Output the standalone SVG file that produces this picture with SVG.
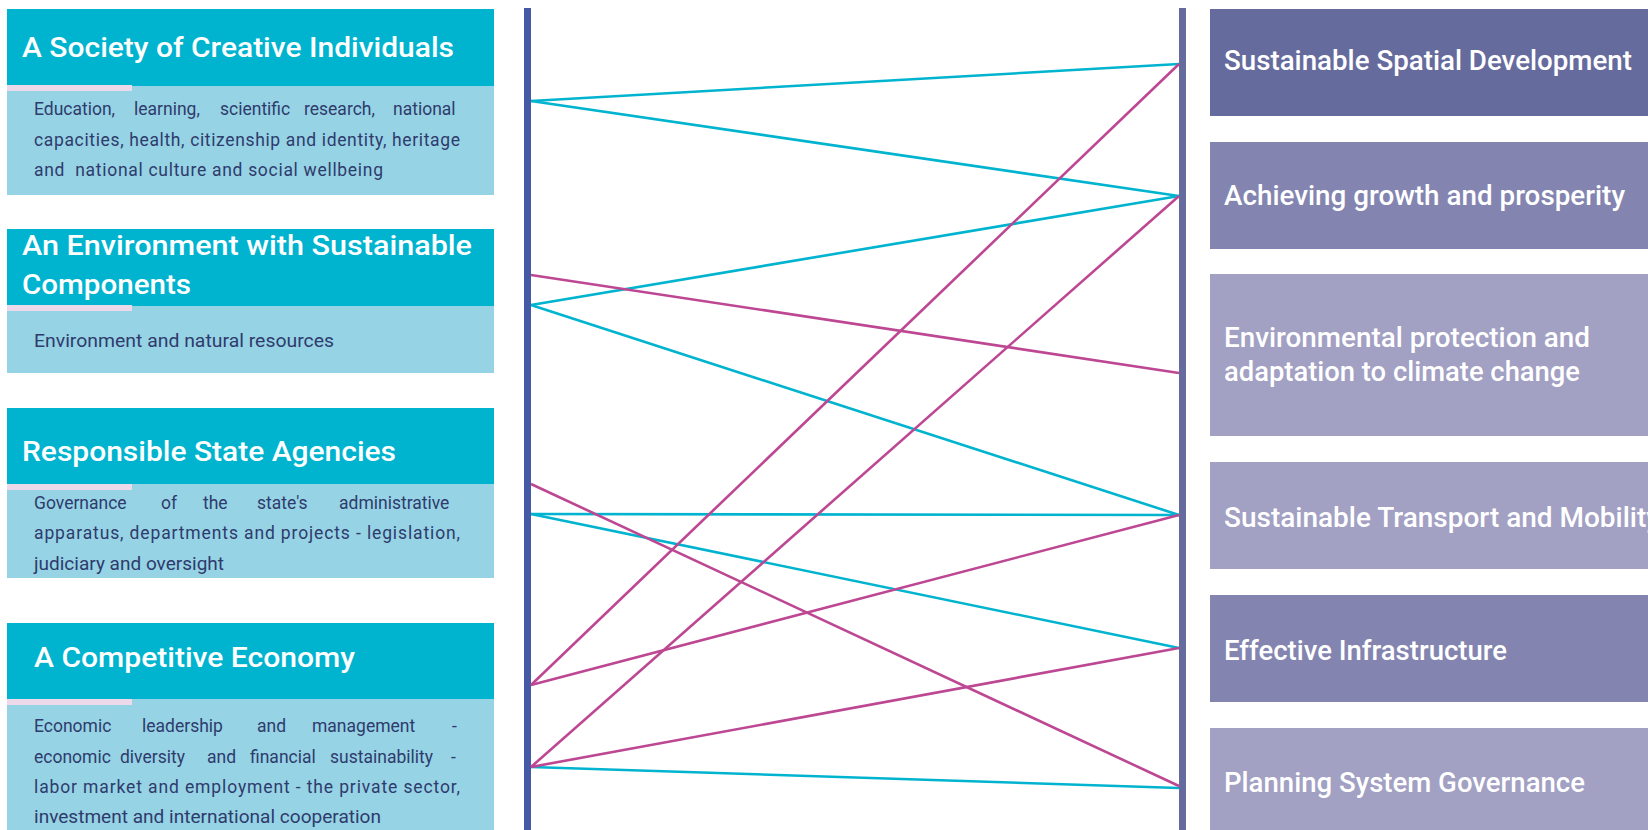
<svg xmlns="http://www.w3.org/2000/svg" width="1648" height="830" viewBox="0 0 1648 830">
<style>
.hd{fill:#00b4d0}
.bd{fill:#95d3e5}
.st{fill:#ecdaea}
.ht{font-family:Roboto,"Liberation Sans",sans-serif;font-weight:500;font-size:28px;fill:#ffffff}
.bt{font-family:Roboto,"Liberation Sans",sans-serif;font-weight:400;font-size:17.5px;fill:#2f3b6c}
.rt{font-family:Roboto,"Liberation Sans",sans-serif;font-weight:500;font-size:27px;fill:#ffffff}
.c{stroke:#00b4d0;stroke-width:2.6;fill:none}
.m{stroke:#bd4792;stroke-width:2.6;fill:none}
</style>
<rect width="1648" height="830" fill="#ffffff"/>

<g id="left-1">
<rect class="hd" x="7" y="9" width="487" height="77"/>
<rect class="bd" x="7" y="86" width="487" height="109"/>
<rect class="st" x="7" y="85" width="125" height="6"/>
<text class="ht" x="22" y="57" textLength="432" lengthAdjust="spacingAndGlyphs">A Society of Creative Individuals</text>
<text class="bt" y="115"><tspan x="34">Education,</tspan><tspan x="134">learning,</tspan><tspan x="220">scientific</tspan><tspan x="304">research,</tspan><tspan x="393">national</tspan></text>
<text class="bt" x="34" y="146" textLength="426" lengthAdjust="spacing">capacities, health, citizenship and identity, heritage</text>
<text class="bt" x="34" y="176" textLength="349" lengthAdjust="spacing" style="white-space:pre">and  national culture and social wellbeing</text>
</g>

<g id="left-2">
<rect class="hd" x="7" y="229" width="487" height="77"/>
<rect class="bd" x="7" y="306" width="487" height="67"/>
<rect class="st" x="7" y="305" width="125" height="6"/>
<text class="ht" x="22" y="255" textLength="450" lengthAdjust="spacingAndGlyphs">An Environment with Sustainable</text>
<text class="ht" x="22" y="294" textLength="169" lengthAdjust="spacingAndGlyphs">Components</text>
<text class="bt" x="34" y="347" textLength="300" lengthAdjust="spacingAndGlyphs">Environment and natural resources</text>
</g>

<g id="left-3">
<rect class="hd" x="7" y="408" width="487" height="76"/>
<rect class="bd" x="7" y="484" width="487" height="94"/>
<rect class="st" x="7" y="484" width="125" height="6"/>
<text class="ht" x="22" y="461" textLength="374" lengthAdjust="spacingAndGlyphs">Responsible State Agencies</text>
<text class="bt" y="509"><tspan x="34">Governance</tspan><tspan x="161">of</tspan><tspan x="203">the</tspan><tspan x="257">state's</tspan><tspan x="339">administrative</tspan></text>
<text class="bt" x="34" y="539" textLength="426" lengthAdjust="spacing">apparatus, departments and projects - legislation,</text>
<text class="bt" x="34" y="570" textLength="190" lengthAdjust="spacingAndGlyphs">judiciary and oversight</text>
</g>

<g id="left-4">
<rect class="hd" x="7" y="623" width="487" height="76"/>
<rect class="bd" x="7" y="699" width="487" height="131"/>
<rect class="st" x="7" y="699" width="125" height="6"/>
<text class="ht" x="34" y="667" textLength="321" lengthAdjust="spacingAndGlyphs">A Competitive Economy</text>
<text class="bt" y="732"><tspan x="34">Economic</tspan><tspan x="142">leadership</tspan><tspan x="257">and</tspan><tspan x="312">management</tspan><tspan x="452">-</tspan></text>
<text class="bt" y="763"><tspan x="34">economic</tspan><tspan x="120">diversity</tspan><tspan x="207">and</tspan><tspan x="250">financial</tspan><tspan x="330">sustainability</tspan><tspan x="451">-</tspan></text>
<text class="bt" x="34" y="793" textLength="426" lengthAdjust="spacing">labor market and employment - the private sector,</text>
<text class="bt" x="34" y="823" textLength="347" lengthAdjust="spacingAndGlyphs">investment and international cooperation</text>
</g>

<g id="bars">
<rect x="524" y="8" width="7" height="822" fill="#4559a4"/>
<rect x="1179" y="8" width="7" height="822" fill="#666b9e"/>
</g>

<g id="right-1">
<rect x="1210" y="9" width="438" height="107" fill="#666b9e"/>
<text class="rt" x="1224" y="70" textLength="408" lengthAdjust="spacingAndGlyphs">Sustainable Spatial Development</text>
</g>
<g id="right-2">
<rect x="1210" y="142" width="438" height="107" fill="#8385b0"/>
<text class="rt" x="1224" y="205" textLength="401" lengthAdjust="spacingAndGlyphs">Achieving growth and prosperity</text>
</g>
<g id="right-3">
<rect x="1210" y="274" width="438" height="162" fill="#a2a0c3"/>
<text class="rt" x="1224" y="347" textLength="366" lengthAdjust="spacingAndGlyphs">Environmental protection and</text>
<text class="rt" x="1224" y="381" textLength="356" lengthAdjust="spacingAndGlyphs">adaptation to climate change</text>
</g>
<g id="right-4">
<rect x="1210" y="462" width="438" height="107" fill="#a2a0c3"/>
<text class="rt" x="1224" y="527" textLength="436" lengthAdjust="spacingAndGlyphs">Sustainable Transport and Mobility</text>
</g>
<g id="right-5">
<rect x="1210" y="595" width="438" height="107" fill="#8385b0"/>
<text class="rt" x="1224" y="660" textLength="283" lengthAdjust="spacingAndGlyphs">Effective Infrastructure</text>
</g>
<g id="right-6">
<rect x="1210" y="728" width="438" height="102" fill="#a2a0c3"/>
<text class="rt" x="1224" y="792" textLength="361" lengthAdjust="spacingAndGlyphs">Planning System Governance</text>
</g>

<g id="connectors">
<line class="c" x1="531" y1="101" x2="1179" y2="64"/>
<line class="c" x1="531" y1="101" x2="1179" y2="196"/>
<line class="c" x1="531" y1="305" x2="1179" y2="196"/>
<line class="c" x1="531" y1="305" x2="1179" y2="515"/>
<line class="c" x1="531" y1="514" x2="1179" y2="515"/>
<line class="c" x1="531" y1="514" x2="1179" y2="648"/>
<line class="c" x1="531" y1="767" x2="1179" y2="788"/>
<line class="m" x1="531" y1="275" x2="1179" y2="373"/>
<line class="m" x1="531" y1="484" x2="1179" y2="786"/>
<line class="m" x1="531" y1="685" x2="1179" y2="64"/>
<line class="m" x1="531" y1="685" x2="1179" y2="515"/>
<line class="m" x1="531" y1="767" x2="1179" y2="196"/>
<line class="m" x1="531" y1="767" x2="1179" y2="648"/>
</g>
</svg>
